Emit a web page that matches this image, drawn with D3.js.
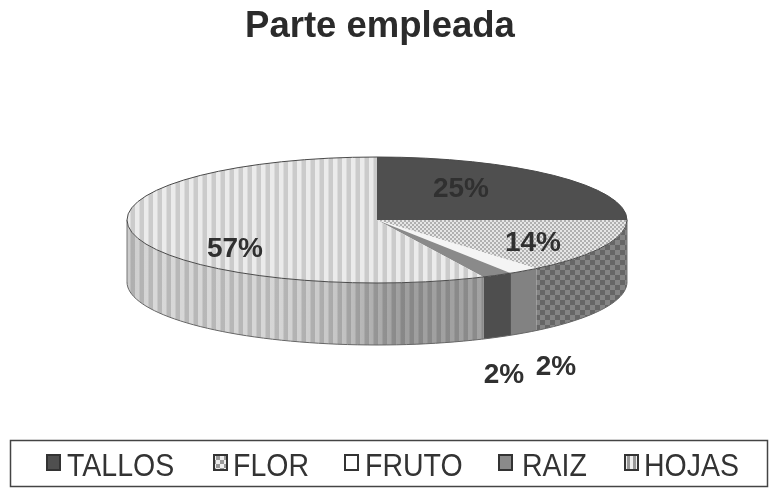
<!DOCTYPE html>
<html><head><meta charset="utf-8">
<script src="https://cdn.jsdelivr.net/npm/d3@7"></script>
<style>
html,body{margin:0;padding:0;background:#fff}
svg{display:block;filter:blur(.7px)}
text{font-family:"Liberation Sans",Arial,sans-serif}
</style></head><body>
<svg id="c" width="769" height="492"></svg>
<script>
const categories = ["TALLOS","FLOR","FRUTO","RAIZ","HOJAS"];
const percentValues = [25,14,2,2,57];
const percentLabels = ["25%","14%","2%","2%","57%"];
const chartTitle = "Parte empleada";

const svg = d3.select("#c");
const cx=377, cy=220, rx=250, ry=63, depth=62;
const defs = svg.append("defs");

function stripes(id, a, b, w){
  const p=defs.append("pattern").attr("id",id).attr("patternUnits","userSpaceOnUse")
    .attr("width",w).attr("height",8);
  p.append("rect").attr("width",w).attr("height",8).attr("fill",a);
  p.append("rect").attr("x",w/2).attr("width",w/2).attr("height",8).attr("fill",b);
}
function checks(id, a, b, s){
  const p=defs.append("pattern").attr("id",id).attr("patternUnits","userSpaceOnUse")
    .attr("width",2*s).attr("height",2*s);
  p.append("rect").attr("width",2*s).attr("height",2*s).attr("fill",a);
  p.append("rect").attr("width",s).attr("height",s).attr("fill",b);
  p.append("rect").attr("x",s).attr("y",s).attr("width",s).attr("height",s).attr("fill",b);
}
stripes("hTop","#ebebeb","#cbcbcb",9);
stripes("hSide","#dcdcdc","#bcbcbc",9);
checks("fTop","#e6e6e6","#b0b0b0",2);
checks("fSide","#848484","#666666",5);
const shade=defs.append("linearGradient").attr("id","shade").attr("gradientUnits","userSpaceOnUse")
  .attr("x1",cx-rx).attr("x2",cx+rx).attr("y1",0).attr("y2",0);
[[0,"#000",.08],[.05,"#000",.02],[.3,"#000",.03],[.42,"#000",.1],[.55,"#000",.28],[.72,"#000",.26]].forEach(s=>
  shade.append("stop").attr("offset",s[0]).attr("stop-color",s[1]).attr("stop-opacity",s[2]));

const topFill = {TALLOS:"#4f4f4f",FLOR:"url(#fTop)",FRUTO:"#f4f4f4",RAIZ:"#8a8a8a",HOJAS:"url(#hTop)"};
const sideFill= {TALLOS:"#444",FLOR:"url(#fSide)",FRUTO:"#828282",RAIZ:"#4e4e4e",HOJAS:"url(#hSide)"};
const keyFill = {TALLOS:"#4f4f4f",FLOR:"url(#fKey)",FRUTO:"#fff",RAIZ:"#8a8a8a",HOJAS:"url(#hKey)"};
checks("fKey","#eee","#999",4);
stripes("hKey","#eee","#999",6);

const arcs=d3.pie().sort(null).value(d=>d)(percentValues).map((d,i)=>({...d,name:categories[i]}));

const px=t=>cx+rx*Math.sin(t), py=t=>cy-ry*Math.cos(t);
const line=d3.line();
const steps=(a,b,n)=>d3.range(0,n+1).map(k=>a+(b-a)*k/n);
function wall(a0,a1){
  const lo=Math.max(a0,Math.PI/2), hi=Math.min(a1,Math.PI*1.5);
  if(hi<=lo) return null;
  const ts=steps(lo,hi,40);
  return line(ts.map(t=>[px(t),py(t)]).concat(ts.slice().reverse().map(t=>[px(t),py(t)+depth])))+"Z";
}
function sector(a0,a1){
  return line([[cx,cy]].concat(steps(a0,a1,80).map(t=>[px(t),py(t)])))+"Z";
}
const gS=svg.append("g");
arcs.forEach(d=>{
  const p=wall(d.startAngle,d.endAngle); if(!p) return;
  gS.append("path").attr("d",p).attr("fill",sideFill[d.name]);
  if(d.name==="HOJAS") gS.append("path").attr("d",p).attr("fill","url(#shade)");
});
svg.append("path").attr("fill","none").attr("stroke","#666").attr("stroke-width",1)
  .attr("d",line(steps(Math.PI/2,Math.PI*1.5,80).map(t=>[px(t),py(t)+depth])));
[Math.PI/2,Math.PI*1.5].forEach(t=>svg.append("line").attr("x1",px(t)).attr("x2",px(t))
  .attr("y1",py(t)).attr("y2",py(t)+depth).attr("stroke","#777"));

const gT=svg.append("g");
arcs.forEach(d=>gT.append("path").attr("d",sector(d.startAngle,d.endAngle)).attr("fill",topFill[d.name]));
svg.append("ellipse").attr("cx",cx).attr("cy",cy).attr("rx",rx).attr("ry",ry)
  .attr("fill","none").attr("stroke","#4a4a4a").attr("stroke-width",1);

svg.append("text").attr("x",380).attr("y",37).attr("text-anchor","middle")
  .attr("font-size",36.5).attr("font-weight","bold").attr("fill","#2b2b2b").text(chartTitle);

const labelPos=[[461,197],[533,251],[504,383],[556,375],[235,257]];
svg.selectAll("text.v").data(percentLabels).join("text").attr("class","v")
  .attr("x",(d,i)=>labelPos[i][0]).attr("y",(d,i)=>labelPos[i][1])
  .attr("text-anchor","middle").attr("font-size",28).attr("font-weight","bold")
  .attr("fill","#303030").text(d=>d);

svg.append("rect").attr("x",10.5).attr("y",440.5).attr("width",757).attr("height",46)
  .attr("fill","#fff").attr("stroke","#444").attr("stroke-width",1.5);
const keyX=[47,214,345,499,625], textX=[67,233,365,522,644];
categories.forEach((c,i)=>{
  svg.append("rect").attr("x",keyX[i]).attr("y",455).attr("width",13).attr("height",15)
    .attr("fill",keyFill[c]).attr("stroke","#333").attr("stroke-width",2);
  svg.append("text").attr("transform",`translate(${textX[i]},476) scale(1,1.08)`)
    .attr("font-size",28.5).attr("fill","#333").text(c);
});
</script></body></html>
